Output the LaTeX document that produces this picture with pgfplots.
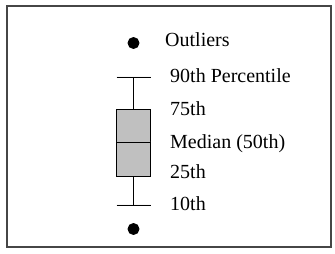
\documentclass[border=0pt]{standalone}
\usepackage{pgfplots}
\pgfplotsset{compat=1.18}
\usepgfplotslibrary{statistics}
\usepackage{fontspec}
\setmainfont{Liberation Serif}
\definecolor{boxgray}{RGB}{192,192,192}
\definecolor{framegray}{RGB}{70,70,70}
\begin{document}
\begin{tikzpicture}
\begin{axis}[
  scale only axis, width=335bp, height=254bp,
  xmin=0, xmax=335, ymin=0, ymax=254,
  hide axis, clip=false,
]
\path (axis cs:0,0) rectangle (axis cs:335,254);
\draw[framegray, line width=1.3bp] (axis cs:7,7) rectangle (axis cs:331,248);
\addplot[boxplot prepared={draw position=133.5, lower whisker=49, lower quartile=78,
    median=112, upper quartile=145, upper whisker=177,
    box extend=34, whisker extend=34},
  boxplot/draw direction=y,
  draw=black, fill=boxgray, line width=0.9bp,
  mark=*, mark size=5.5bp, mark options={draw=black, fill=black}]
  table[row sep=\\, y index=0] {211\\25\\};
\begin{scope}[every node/.style={anchor=base west, inner sep=0pt, font=\fontsize{20bp}{24bp}\selectfont}]
\node at (axis cs:165,207) {Outliers};
\node at (axis cs:170,171) {90th Percentile};
\node at (axis cs:170,138) {75th};
\node at (axis cs:170,105) {Median (50th)};
\node at (axis cs:170,75) {25th};
\node at (axis cs:170,43) {10th};
\end{scope}
\end{axis}
\end{tikzpicture}
\end{document}
